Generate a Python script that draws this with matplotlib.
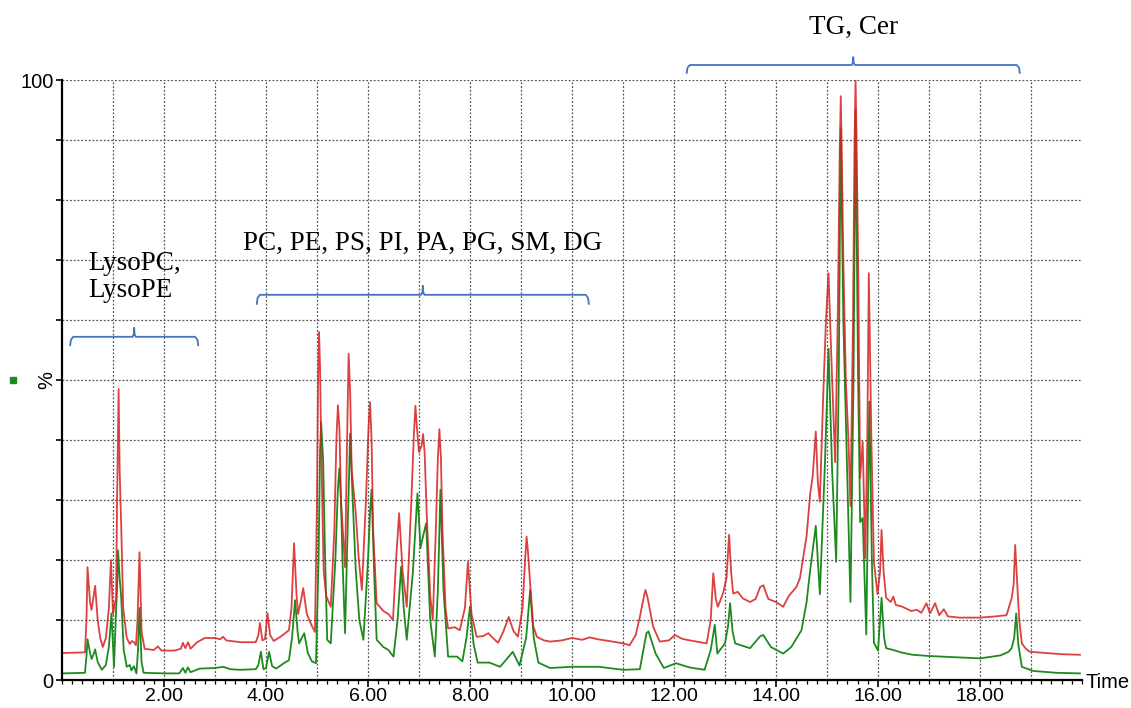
import matplotlib
matplotlib.use("Agg")
import matplotlib.pyplot as plt
from matplotlib.ticker import MultipleLocator, FixedLocator, FixedFormatter

# upper trace (red), time in min / relative intensity in %
red_t = [0.00, 0.45, 0.48, 0.50, 0.55, 0.58, 0.62, 0.65, 0.70, 0.75, 0.80, 0.86, 0.92, 0.96, 1.00,
         1.04, 1.06, 1.08, 1.11, 1.13, 1.16, 1.20, 1.27, 1.33, 1.37, 1.41, 1.45, 1.48, 1.52, 1.56,
         1.62, 1.80, 1.88, 1.95, 2.20, 2.33, 2.37, 2.42, 2.47, 2.52, 2.65, 2.80, 3.00, 3.10, 3.16,
         3.22, 3.50, 3.80, 3.85, 3.88, 3.93, 3.98, 4.03, 4.08, 4.15, 4.30, 4.45, 4.50, 4.55, 4.60,
         4.63, 4.68, 4.73, 4.80, 4.90, 4.96, 5.00, 5.02, 5.04, 5.06, 5.08, 5.13, 5.18, 5.27, 5.34,
         5.38, 5.41, 5.44, 5.47, 5.55, 5.59, 5.62, 5.65, 5.68, 5.76, 5.82, 5.88, 5.96, 6.01, 6.04,
         6.07, 6.10, 6.17, 6.30, 6.40, 6.49, 6.55, 6.61, 6.68, 6.76, 6.85, 6.90, 6.93, 6.96, 7.00,
         7.05, 7.08, 7.11, 7.15, 7.22, 7.27, 7.33, 7.37, 7.40, 7.43, 7.46, 7.52, 7.57, 7.70, 7.80,
         7.90, 7.96, 8.03, 8.13, 8.25, 8.36, 8.45, 8.55, 8.65, 8.76, 8.85, 8.94, 9.03, 9.08, 9.11,
         9.14, 9.18, 9.24, 9.31, 9.45, 9.57, 9.80, 10.00, 10.20, 10.35, 10.50, 10.80, 11.00, 11.13,
         11.25, 11.33, 11.40, 11.44, 11.48, 11.52, 11.59, 11.72, 11.90, 12.02, 12.15, 12.25, 12.45,
         12.64, 12.72, 12.77, 12.82, 12.86, 12.96, 13.03, 13.08, 13.12, 13.16, 13.25, 13.35, 13.49,
         13.60, 13.69, 13.75, 13.85, 14.00, 14.14, 14.25, 14.40, 14.47, 14.60, 14.67, 14.72, 14.78,
         14.82, 14.86, 14.93, 14.98, 15.03, 15.08, 15.16, 15.21, 15.25, 15.27, 15.29, 15.32, 15.37,
         15.42, 15.46, 15.51, 15.54, 15.56, 15.58, 15.61, 15.65, 15.70, 15.75, 15.79, 15.82, 15.87,
         15.92, 15.99, 16.04, 16.07, 16.11, 16.16, 16.25, 16.30, 16.35, 16.45, 16.53, 16.65, 16.76,
         16.85, 16.95, 17.02, 17.12, 17.20, 17.29, 17.37, 17.60, 18.00, 18.30, 18.52, 18.62, 18.66,
         18.69, 18.73, 18.77, 18.82, 18.90, 18.98, 19.30, 19.60, 19.96]
red_y = [4.5, 4.6, 10.0, 18.8, 13.0, 11.7, 14.0, 15.7, 10.0, 7.0, 5.5, 7.0, 12.0, 20.0, 11.0,
         13.0, 13.3, 30.0, 48.5, 35.0, 26.0, 12.0, 7.0, 6.0, 6.5, 6.3, 5.8, 10.0, 21.3, 8.0,
         5.2, 5.0, 5.6, 4.9, 4.9, 5.2, 6.2, 5.3, 6.3, 5.2, 6.3, 7.0, 7.0, 6.8, 7.2,
         6.6, 6.3, 6.3, 7.5, 9.5, 6.6, 6.8, 11.1, 7.5, 6.5, 7.3, 8.3, 12.0, 22.8, 14.0,
         11.0, 13.0, 15.3, 11.0, 9.0, 8.0, 30.0, 50.0, 58.0, 52.0, 40.0, 18.3, 14.0, 12.2, 25.0,
         40.0, 45.8, 42.0, 30.0, 18.8, 40.0, 54.4, 48.0, 35.0, 27.8, 20.0, 15.0, 30.0, 42.0, 46.3,
         40.0, 25.0, 12.8, 11.5, 11.0, 10.0, 20.0, 27.8, 18.0, 12.2, 30.0, 41.0, 45.7, 42.0, 38.0,
         39.0, 41.0, 38.0, 28.0, 14.0, 10.0, 25.0, 37.0, 41.8, 37.0, 25.0, 12.0, 8.6, 8.8, 8.3,
         12.0, 19.7, 11.0, 7.2, 7.3, 7.8, 7.0, 6.2, 8.0, 10.5, 8.2, 7.2, 12.0, 20.0, 23.9,
         21.0, 16.0, 9.0, 7.2, 6.6, 6.4, 6.6, 7.0, 6.7, 7.1, 6.8, 6.4, 6.1, 5.8,
         7.5, 10.5, 13.5, 15.0, 13.8, 12.0, 8.9, 6.4, 6.6, 7.5, 6.9, 6.7, 6.4,
         6.1, 10.0, 17.8, 13.5, 12.2, 14.4, 17.0, 24.2, 18.0, 14.4, 14.7, 13.6, 13.0,
         13.5, 15.5, 15.8, 13.5, 13.0, 12.2, 14.0, 15.5, 17.0, 24.0, 31.0, 34.0, 41.4,
         33.0, 29.7, 48.5, 60.0, 67.8, 55.0, 36.3, 60.0, 88.0, 97.3, 88.0, 70.0, 49.8,
         40.0, 29.0, 60.0, 90.0, 100.0, 90.0, 70.0, 33.7, 39.7, 20.3, 40.0, 67.8, 40.0,
         19.7, 14.3, 18.0, 25.0, 18.0, 13.7, 13.0, 13.9, 12.5, 12.3, 12.0, 11.5, 11.7,
         11.2, 12.8, 11.1, 12.8, 10.8, 11.8, 10.6, 10.4, 10.4, 10.6, 10.8, 13.6, 16.0,
         22.5, 16.0, 10.0, 6.1, 5.2, 4.7, 4.5, 4.3, 4.2]

# lower trace (green)
green_t = [0.00, 0.45, 0.48, 0.50, 0.55, 0.58, 0.62, 0.65, 0.70, 0.78, 0.86, 0.92, 0.97, 1.02, 1.06,
           1.08, 1.10, 1.13, 1.16, 1.21, 1.27, 1.33, 1.36, 1.41, 1.46, 1.49, 1.52, 1.56, 1.60, 2.00,
           2.30, 2.37, 2.42, 2.47, 2.52, 2.70, 3.00, 3.16, 3.30, 3.49, 3.80, 3.85, 3.90, 3.95, 4.00,
           4.06, 4.12, 4.20, 4.35, 4.45, 4.51, 4.57, 4.62, 4.65, 4.70, 4.75, 4.82, 4.90, 4.98, 5.03,
           5.06, 5.08, 5.12, 5.16, 5.20, 5.27, 5.36, 5.41, 5.44, 5.47, 5.50, 5.55, 5.60, 5.65, 5.70,
           5.76, 5.83, 5.91, 6.00, 6.04, 6.07, 6.12, 6.17, 6.30, 6.40, 6.50, 6.58, 6.65, 6.70, 6.76,
           6.88, 6.97, 7.03, 7.08, 7.14, 7.22, 7.31, 7.37, 7.42, 7.48, 7.57, 7.75, 7.85, 7.93, 8.00,
           8.07, 8.15, 8.38, 8.59, 8.72, 8.84, 8.97, 9.10, 9.18, 9.25, 9.34, 9.57, 10.00, 10.53,
           11.00, 11.33, 11.40, 11.46, 11.50, 11.56, 11.64, 11.80, 12.04, 12.30, 12.60, 12.72, 12.80,
           12.85, 13.00, 13.06, 13.10, 13.15, 13.20, 13.49, 13.69, 13.75, 13.90, 14.14, 14.30, 14.50,
           14.60, 14.67, 14.78, 14.86, 14.96, 15.03, 15.10, 15.18, 15.23, 15.27, 15.32, 15.37, 15.46,
           15.52, 15.56, 15.61, 15.65, 15.70, 15.77, 15.83, 15.88, 15.92, 16.00, 16.07, 16.12, 16.16,
           16.30, 16.45, 16.68, 17.00, 18.00, 18.40, 18.56, 18.62, 18.67, 18.71, 18.75, 18.82, 19.05,
           19.50, 19.96]
green_y = [1.1, 1.2, 4.0, 6.8, 4.5, 3.5, 4.3, 5.1, 3.0, 1.7, 2.5, 5.6, 11.1, 2.2, 11.7,
           15.0, 21.6, 17.0, 13.9, 5.0, 2.2, 2.5, 1.6, 2.3, 1.1, 5.0, 12.0, 3.0, 1.2, 1.1,
           1.1, 2.0, 1.2, 2.1, 1.3, 1.9, 2.0, 2.2, 1.8, 1.7, 1.8, 2.5, 4.7, 1.8, 2.0,
           4.7, 2.3, 1.9, 2.8, 3.3, 7.0, 13.3, 8.0, 6.1, 7.0, 7.8, 4.5, 3.1, 2.8, 20.0,
           38.0, 43.0, 36.7, 20.0, 6.7, 6.1, 20.0, 32.0, 35.3, 30.0, 20.0, 7.8, 25.0, 41.1, 30.0,
           18.3, 10.0, 6.7, 20.0, 28.0, 31.7, 18.0, 6.7, 5.5, 5.0, 3.9, 10.0, 18.9, 12.0, 6.7,
           18.0, 31.1, 22.0, 24.0, 26.1, 10.0, 3.9, 15.0, 31.7, 15.0, 3.9, 3.9, 3.1, 7.0, 12.2,
           6.0, 2.9, 2.9, 2.2, 3.5, 4.7, 2.4, 7.0, 15.0, 7.0, 2.9, 2.0, 2.2, 2.2,
           1.7, 1.8, 5.0, 7.8, 8.1, 6.5, 4.4, 2.0, 2.8, 2.1, 1.7, 5.0, 9.2,
           4.4, 6.1, 9.0, 12.8, 8.0, 6.1, 5.3, 7.3, 7.5, 5.5, 4.4, 5.5, 8.3,
           13.0, 18.3, 25.7, 14.3, 36.3, 55.2, 35.0, 19.7, 50.0, 92.0, 60.0, 43.0, 13.0,
           50.0, 95.0, 50.0, 26.3, 27.0, 7.6, 46.4, 20.0, 6.2, 4.9, 13.7, 7.0, 5.3,
           5.0, 4.6, 4.2, 4.0, 3.6, 4.1, 4.7, 5.3, 7.0, 11.1, 6.0, 2.2, 1.5,
           1.2, 1.1]

# lipid class groups: label, start, end (min)
group_labels = ["LysoPC,\nLysoPE", "PC, PE, PS, PI, PA, PG, SM, DG", "TG, Cer"]
group_start = [0.16, 3.82, 12.25]
group_end = [2.67, 10.33, 18.78]

x_labels = ["2.00", "4.00", "6.00", "8.00", "10.00", "12.00", "14.00", "16.00", "18.00"]

brace_col = "#4472C4"
grid_kw = dict(color="#555555", lw=0.9, ls=(0, (1.5, 1.5)))


def brace(ax, x0, x1, y, hook, spike):
    xc = (x0 + x1) / 2
    xs = [x0, x0 + 0.015, x0 + 0.06, xc - 0.03, xc - 0.008, xc, xc + 0.008, xc + 0.03,
          x1 - 0.06, x1 - 0.015, x1]
    ys = [y - hook, y - hook * 0.35, y, y, y + spike * 0.3, y + spike, y + spike * 0.3, y,
          y, y - hook * 0.35, y - hook]
    ax.plot(xs, ys, color=brace_col, lw=1.3, clip_on=False, solid_joinstyle="round")


fig = plt.figure(figsize=(11.31, 7.08), dpi=100)
ax = fig.add_axes([62 / 1131, 28 / 708, 1020 / 1131, 600 / 708])
ax.set_xlim(0, 20)
ax.set_ylim(0, 100)

for v in range(1, 20):
    ax.axvline(v, **grid_kw, zorder=1)
for v in range(10, 101, 10):
    ax.axhline(v, **grid_kw, zorder=1)

ax.plot(green_t, green_y, color="#1e8a1e", lw=1.3, zorder=3)
ax.plot(red_t, red_y, color="#d61f1f", lw=1.3, alpha=0.85, zorder=4)

for s in ["top", "right"]:
    ax.spines[s].set_visible(False)
for s in ["left", "bottom"]:
    ax.spines[s].set_linewidth(1.6)
    ax.spines[s].set_zorder(5)

ax.xaxis.set_minor_locator(MultipleLocator(0.2))
ax.xaxis.set_major_locator(FixedLocator(list(range(2, 20, 2))))
ax.xaxis.set_major_formatter(FixedFormatter(x_labels))
ax.tick_params(axis="x", which="major", length=5, width=1.2, labelsize=14, pad=1)
ax.tick_params(axis="x", which="minor", length=3, width=0.9)

ax.yaxis.set_major_locator(FixedLocator(list(range(0, 101, 10))))
ax.set_yticklabels(["0"] + [""] * 9 + ["100"])
ax.tick_params(axis="y", length=4, width=1.2, labelsize=14.5, pad=2)

for lab in ax.get_xticklabels() + ax.get_yticklabels():
    lab.set_fontfamily("Liberation Sans")

fig.text(1086 / 1131, 1 - 683 / 708, "Time", fontsize=14.5, family="Liberation Sans",
         ha="left", va="center")
fig.text(47 / 1131, 1 - 380 / 708, "%", fontsize=14.5, family="Liberation Sans",
         rotation=90, ha="center", va="center")
fig.patches.append(plt.Rectangle((10 / 1131, 1 - 383 / 708), 6 / 1131, 6 / 708,
                                 transform=fig.transFigure, color="#1e8a1e", figure=fig))

# class braces and labels
serif = "Liberation Serif"
brace(ax, group_start[0], group_end[0], 57.2, 1.4, 1.5)
ax.text(0.51, 67.2, group_labels[0], fontsize=19.5, family=serif, ha="left", va="center",
        linespacing=1.1)
brace(ax, group_start[1], group_end[1], 64.2, 1.5, 1.5)
ax.text((group_start[1] + group_end[1]) / 2, 72.8, group_labels[1], fontsize=19.5,
        family=serif, ha="center", va="center")
brace(ax, group_start[2], group_end[2], 102.5, 1.3, 1.3)
ax.text((group_start[2] + group_end[2]) / 2, 108.7, group_labels[2], fontsize=19.5,
        family=serif, ha="center", va="center", clip_on=False)

fig.savefig("out.png", dpi=100)
